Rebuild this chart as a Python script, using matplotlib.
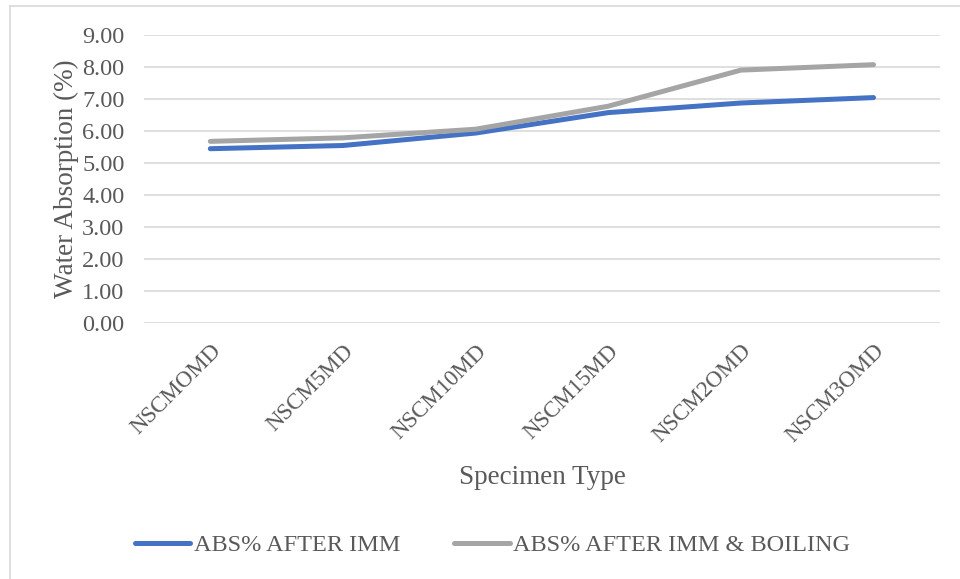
import matplotlib.pyplot as plt
from matplotlib.lines import Line2D

specimens = ["NSCMOMD", "NSCM5MD", "NSCM10MD", "NSCM15MD", "NSCM2OMD", "NSCM3OMD"]
abs_imm = [5.44, 5.54, 5.93, 6.57, 6.87, 7.04]
abs_boiling = [5.67, 5.78, 6.05, 6.77, 7.90, 8.07]
yticks = [0, 1, 2, 3, 4, 5, 6, 7, 8, 9]

plt.rcParams['font.family'] = ['Liberation Serif', 'DejaVu Serif']
txt = '#595959'

fig = plt.figure(figsize=(9.6, 5.79), dpi=100)
ax = fig.add_axes([0.15, 0.443, 0.829, 0.4966])

x = list(range(len(specimens)))
ax.plot(x, abs_imm, color='#4472C4', lw=3.6, solid_capstyle='round',
        solid_joinstyle='round', label='ABS% AFTER IMM', zorder=3)
ax.plot(x, abs_boiling, color='#A5A5A5', lw=3.6, solid_capstyle='round',
        solid_joinstyle='round', label='ABS% AFTER IMM & BOILING', zorder=3)

ax.set_xlim(-0.5, len(specimens) - 0.5)
ax.set_ylim(0, 9)
ax.set_yticks(yticks)
ax.set_yticklabels(["%.2f" % v for v in yticks], fontsize=17.5, color=txt)
ax.set_xticks(x)
ax.set_xticklabels(specimens, rotation=45, ha='right', va='top',
                   rotation_mode='anchor', fontsize=16.5, color=txt)
ax.tick_params(axis='both', length=0)
ax.tick_params(axis='y', pad=14)
ax.tick_params(axis='x', pad=13)
ax.grid(axis='y', color='#D9D9D9', lw=1.2)
ax.set_axisbelow(True)
for s in ax.spines.values():
    s.set_visible(False)

ax.set_ylabel('Water Absorption (%)', fontsize=19.5, color=txt, labelpad=2)
fig.text(0.565, 0.175, 'Specimen Type', fontsize=19.5, color=txt,
         ha='center', va='center')

handles = [Line2D([], [], color='#4472C4', lw=3.6, solid_capstyle='round'),
           Line2D([], [], color='#A5A5A5', lw=3.6, solid_capstyle='round')]
fig.legend(handles, ['ABS% AFTER IMM', 'ABS% AFTER IMM & BOILING'],
           loc='center', bbox_to_anchor=(0.513, 0.058), ncol=2, frameon=False,
           fontsize=17.5, labelcolor=txt, handlelength=2.3, handletextpad=0.15,
           columnspacing=2.2)

# chart frame (only left and top edges fall inside the image)
fig.add_artist(Line2D([10 / 960, 10 / 960], [0, 1 - 6 / 579],
                      transform=fig.transFigure, color='#D9D9D9', lw=1.2))
fig.add_artist(Line2D([10 / 960, 1], [1 - 6 / 579, 1 - 6 / 579],
                      transform=fig.transFigure, color='#D9D9D9', lw=1.2))

fig.savefig('out.png', dpi=100)
